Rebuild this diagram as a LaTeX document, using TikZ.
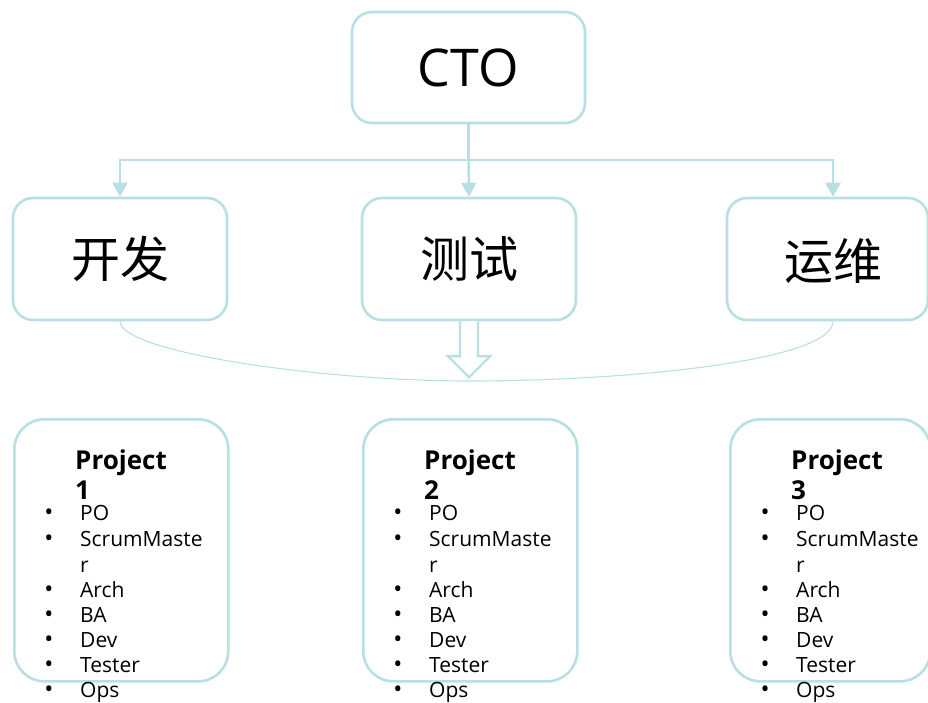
\documentclass[tikz,border=0pt]{standalone}
\usepackage{fontspec}
\setmainfont{Open Sans}
\newfontfamily\cjk{Noto Sans CJK SC}
\usetikzlibrary{arrows.meta}
\definecolor{lb}{RGB}{184,223,227}
\tikzset{
  box/.style={draw=lb, line width=2.6pt, rounded corners=20pt, fill=white},
  pbox/.style={box, rounded corners=30pt},
  conn/.style={draw=lb, line width=2.4pt},
  arr/.style={conn, -{Triangle[length=14pt,width=15pt]}},
  head/.style={inner sep=0pt, font=\fontsize{26}{30}\selectfont\bfseries},
  item/.style={inner sep=0pt, font=\fontsize{21}{25}\selectfont},
  bul/.style={inner sep=0pt, font=\fontsize{24}{25}\selectfont},
  cn/.style={font=\fontsize{49}{58}\selectfont\cjk}
}
\newcommand\projblock[4]{%
  \node[pbox, minimum width=#4, minimum height=262pt, anchor=north west] (#1) at (#2,418) {};
  \node[head, anchor=base west] (#1h1) at (#2+62,469) {Project};
  \node[head, anchor=base west] (#1h2) at (#2+62,499) {#3};
  \foreach \t/\y/\b [count=\i] in {PO/520/1,ScrumMaste/546/1,r/572/0,Arch/597/1,BA/622/1,Dev/647/1,Tester/672/1,Ops/697/1}{
    \node[item, anchor=base west] (#1i\i) at (#2+67,\y) {\t};
    \ifnum\b=1 \node[bul, anchor=base] (#1b\i) at (#2+36,\y) {•};\fi
  }
}
\begin{document}
\begin{tikzpicture}[x=1pt,y=-1pt]
\useasboundingbox (0,0) rectangle (928,702);
\node[box, minimum width=233pt, minimum height=111pt, font=\fontsize{52}{60}\selectfont] (cto) at (468.5,67.5) {CTO};
\node[box, minimum width=214pt, minimum height=122pt, cn] (kf) at (120,259) {开发};
\node[box, minimum width=214pt, minimum height=122pt, cn] (cs) at (469,259) {测试};
\node[box, minimum width=201pt, minimum height=122pt] (yw) at (827.5,259) {};
\node[cn, inner sep=0pt] (ywt) at (833,261) {运维};
\coordinate (j) at (468.5,160);
\draw[conn] (cto.south) -- (j);
\draw[arr] (j) -| (kf.north);
\draw[arr] (j) -- (cs.north);
\draw[arr] (j) -| ([xshift=5.5pt]yw.north);
\draw[draw=lb, line width=1.1pt] (kf.south) .. controls (120,352) and (320,381) .. (470,381) .. controls (620,381) and (833,362) .. ([xshift=5.5pt]yw.south);
\draw[conn, fill=white, line width=2.2pt] (cs.south) ++(-9,0) -- ++(0,35) -- ++(-12,0) -- ++(21,21) -- ++(21,-21) -- ++(-12,0) -- ++(0,-35);
\projblock{pa}{13}{1}{214pt}
\projblock{pb}{362}{2}{214pt}
\projblock{pc}{729}{3}{200pt}
\end{tikzpicture}
\end{document}
